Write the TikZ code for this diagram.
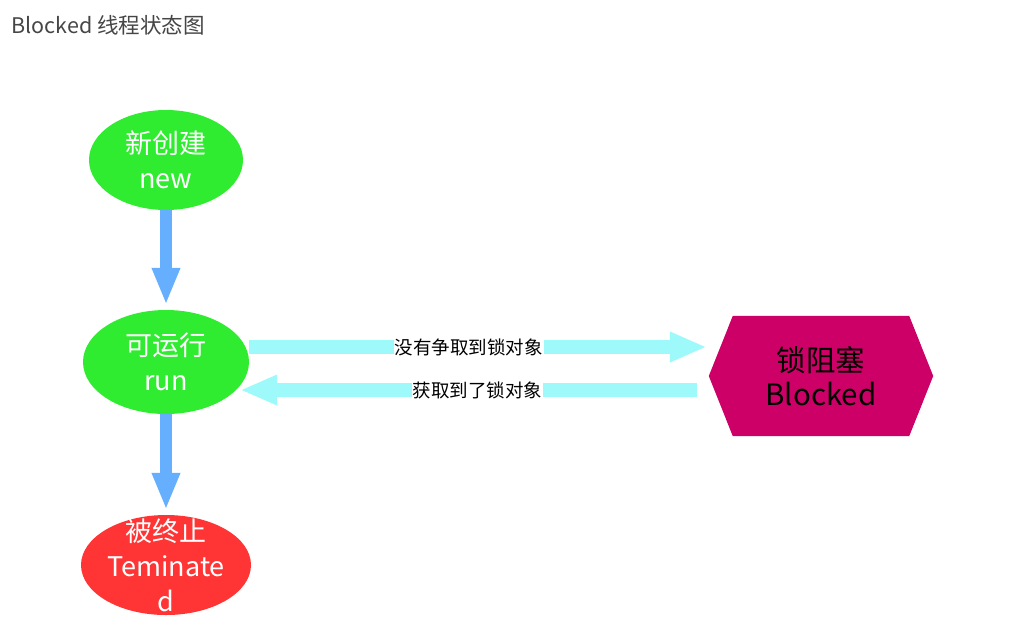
\documentclass[tikz,border=0pt]{standalone}
\usepackage{fontspec}
\setmainfont{Noto Sans CJK SC}
\usetikzlibrary{arrows.meta,shapes.geometric}
\definecolor{stgreen}{RGB}{48,236,48}
\definecolor{stred}{RGB}{255,52,52}
\definecolor{stmag}{RGB}{204,0,102}
\definecolor{stblue}{RGB}{102,175,255}
\definecolor{stcyan}{RGB}{158,250,250}
\definecolor{sttitle}{RGB}{70,70,70}
\begin{document}
\begin{tikzpicture}[x=1pt,y=-1pt,
  state/.style={ellipse, inner sep=0pt, align=center, text=white,
    font=\fontsize{27}{35}\selectfont},
  statetext/.style={align=center, text=white, inner sep=0pt,
    font=\fontsize{27}{35}\selectfont},
  vflow/.style={draw=stblue, line width=12pt,
    -{Triangle[width=26pt,length=37pt]}},
  hflow/.style={draw=stcyan, line width=14pt,
    -{Triangle[width=28pt,length=37pt]}},
  flowlabel/.style={fill=white, inner sep=1pt, text=black,
    font=\fontsize{18.5}{20}\selectfont}]
\useasboundingbox[fill=white] (0,0) rectangle (1022,638);
\node[anchor=west, text=sttitle, font=\fontsize{21.5}{24}\selectfont] (title) at (8,25) {Blocked 线程状态图};
\node[state, fill=stgreen, minimum width=154pt, minimum height=100pt] (new) at (166,160) {新创建\\new};
\node[state, fill=stgreen, minimum width=166pt, minimum height=104pt] (run) at (166,362) {可运行\\run};
\node[state, fill=stred, minimum width=170pt, minimum height=100pt] (term) at (166,565) {};
\node[statetext] (termtext) at (166,565) {被终止\\Teminate\\d};
\node[minimum width=224pt, minimum height=120pt, inner sep=0pt] (blkbox) at (821,376) {};
\fill[stmag] (blkbox.west) -- ([xshift=24pt]blkbox.north west) -- ([xshift=-24pt]blkbox.north east)
  -- (blkbox.east) -- ([xshift=-24pt]blkbox.south east) -- ([xshift=24pt]blkbox.south west) -- cycle;
\node[align=center, text=black, font=\fontsize{29.5}{34}\selectfont] (blk) at (blkbox) {锁阻塞\\Blocked};
\draw[vflow] (new.south) -- ([yshift=5pt]run.north);
\draw[vflow] (run.south) -- ([yshift=5pt]term.north);
\draw[hflow] ([yshift=15pt]run.east) -- node[flowlabel, pos=0.48] (l1) {没有争取到锁对象} ([xshift=-2pt,yshift=29pt]blkbox.west);
\draw[hflow] ([xshift=-12pt,yshift=-14pt]blkbox.west) -- node[flowlabel, pos=0.48] (l2) {获取到了锁对象} ([xshift=-9pt,yshift=-28pt]run.east);
\end{tikzpicture}
\end{document}
